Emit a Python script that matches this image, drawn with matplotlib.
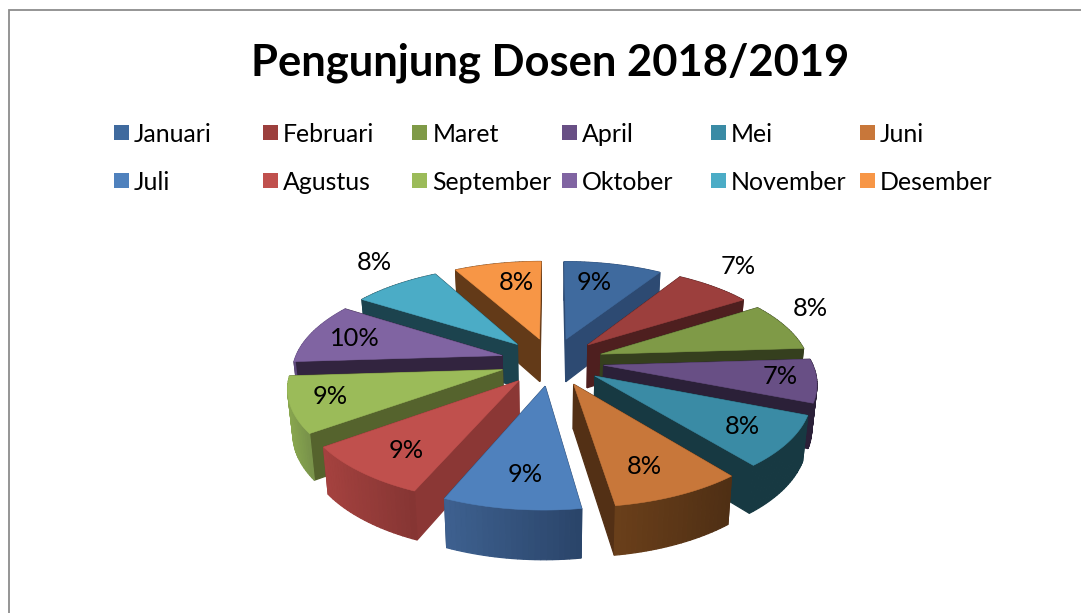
import numpy as np
import matplotlib
matplotlib.use("Agg")
import matplotlib.pyplot as plt
from matplotlib.colors import to_rgb
from matplotlib.patches import Polygon, Rectangle

# ---- data ----
months = ["Januari", "Februari", "Maret", "April", "Mei", "Juni",
          "Juli", "Agustus", "September", "Oktober", "November", "Desember"]
values = [9, 7, 8, 7, 8.2, 8.45, 8.75, 8.6, 9, 10, 8, 8]
title = "Pengunjung Dosen 2018/2019"

# ---- styles ----
top_colors = ["#3F6A9E", "#9C3F3D", "#7F9A47", "#684F85", "#3A8BA5", "#C8773A",
              "#4F81BD", "#C0504D", "#9BBB59", "#8064A2", "#4BACC6", "#F79646"]
radial_colors = ["#2D4A72", "#4E1F1F", "#353F1E", "#2B2038", "#173942", "#533015",
                 "#2A4469", "#8B3735", "#55632D", "#32243F", "#1C434E", "#633A18"]
outer_left = ["#2D4A72", "#4E1F1F", "#353F1E", "#2B2038", "#173942", "#6A3F1A",
              "#3E6190", "#A5423F", "#8AA84F", "#5E4A7C", "#1C434E", "#633A18"]
outer_right = ["#2D4A72", "#4E1F1F", "#353F1E", "#2B2038", "#173942", "#4F2F14",
               "#2A4469", "#853533", "#78924A", "#5E4A7C", "#1C434E", "#633A18"]
label_px = [(594, 283), (738, 267), (810, 309), (780, 377), (742, 427), (644, 467),
            (525, 475), (406, 451), (330, 397), (355, 339), (374, 263), (516, 283)]

FONT = "Lato"
X0, Y0, A, B, K, EXPLODE, DEPTH = 552, 361.5, 208, 96, 0.155, 0.25, 43.5


def project(u, v, bottom=False):
    s = 1 / (1 + K * v)
    x = A * u * s
    y = Y0 - B * v * s
    if bottom:
        x = x * 0.98
        y = y + DEPTH / (1 + 0.1 * v)
    return X0 + x, y


fig = plt.figure(figsize=(10.81, 6.13), dpi=100)
ax = fig.add_axes([0, 0, 1, 1])
ax.set_xlim(0, 1081)
ax.set_ylim(613, 0)
ax.axis("off")

# frame
ax.plot([9, 9, 1081], [613, 10, 10], color="#8C8C8C", lw=1.3, solid_joinstyle="miter")

# title
ax.text(550, 63, title, ha="center", va="center", fontsize=31.3, fontweight="bold",
        family=FONT, color="black")

# legend
for i, name in enumerate(months):
    col, row = i % 6, i // 6
    lx = 114 + col * 149.2
    ly = 125 + row * 48
    ax.add_patch(Rectangle((lx, ly), 15, 15, fc=top_colors[i], ec="none"))
    ax.text(lx + 20, ly + 9, name, ha="left", va="center", fontsize=17.9, family=FONT,
            color="black")

# pie
fractions = np.array(values, dtype=float) / np.sum(values)
edges = np.concatenate([[0], np.cumsum(fractions)]) * 2 * np.pi
mids = (edges[:-1] + edges[1:]) / 2
order = np.argsort(-np.cos(mids))

for i in order:
    t = np.linspace(edges[i], edges[i + 1], 25)
    du, dv = EXPLODE * np.sin(mids[i]), EXPLODE * np.cos(mids[i])
    us = np.concatenate([[du], du + np.sin(t)])
    vs = np.concatenate([[dv], dv + np.cos(t)])

    faces = []
    # radial sides
    for j in (1, len(us) - 1):
        a = (du, dv)
        b = (us[j], vs[j])
        pts = [project(*a), project(*b), project(*b, True), project(*a, True)]
        faces.append(((a[1] + b[1]) / 2, pts, radial_colors[i]))
    # outer arc, painted as shaded strips
    cl, cr = np.array(to_rgb(outer_left[i])), np.array(to_rgb(outer_right[i]))
    xs = [project(us[j], vs[j])[0] for j in range(1, len(us))]
    xmin, xmax = min(xs), max(xs)
    for j in range(1, len(us) - 1):
        a = (us[j], vs[j])
        b = (us[j + 1], vs[j + 1])
        pts = [project(*a), project(*b), project(*b, True), project(*a, True)]
        f = ((pts[0][0] + pts[1][0]) / 2 - xmin) / max(xmax - xmin, 1)
        faces.append(((a[1] + b[1]) / 2, pts, tuple(cl + (cr - cl) * f)))

    for _, pts, c in sorted(faces, key=lambda q: -q[0]):
        ax.add_patch(Polygon(pts, closed=True, fc=c, ec=c, lw=0.9))

    top = [project(a, b) for a, b in zip(us, vs)]
    ax.add_patch(Polygon(top, closed=True, fc=top_colors[i], ec=top_colors[i], lw=0.4))

# data labels
total = sum(values)
for v, (tx, ty) in zip(values, label_px):
    ax.text(tx, ty, f"{round(v / total * 100)}%", ha="center", va="center",
            fontsize=18.3, family=FONT, color="black", zorder=10)

fig.savefig("out.png", dpi=100)
